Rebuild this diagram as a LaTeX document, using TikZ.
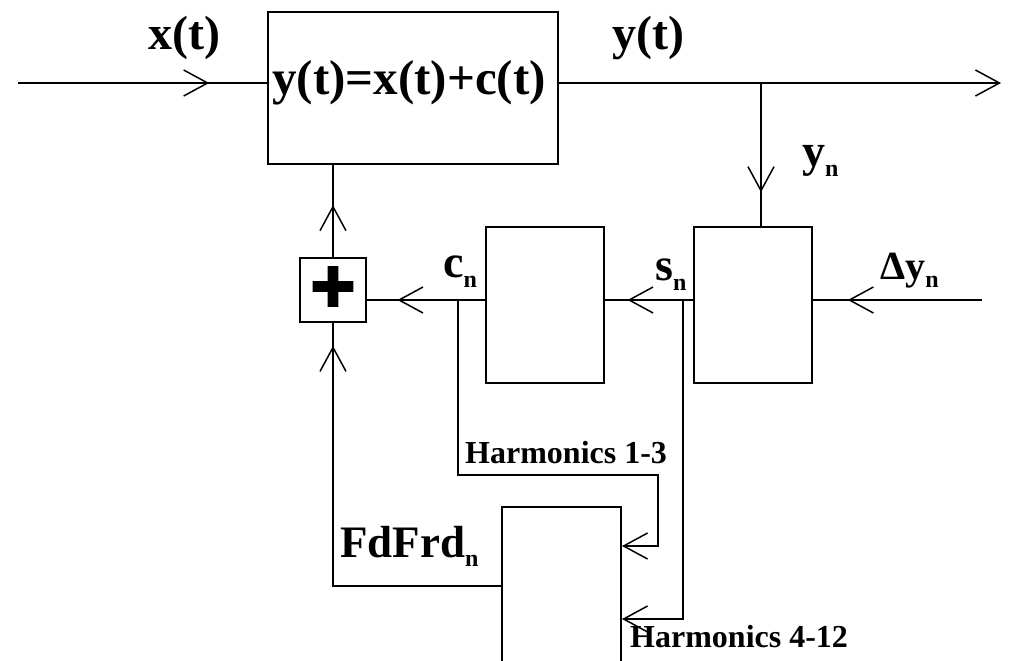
\documentclass[tikz,border=0pt]{standalone}
\usepackage{fontspec}
\setmainfont{Liberation Serif}
\newfontfamily\plusfont[FakeBold=10]{Liberation Serif}
\usetikzlibrary{arrows.meta,decorations.markings}
\newcommand{\subn}{\raisebox{-0.22em}{\fontsize{24}{24}\selectfont n}}

\begin{document}
\begin{tikzpicture}[
    x=1pt, y=-1pt,
    >={Straight Barb[length=24pt, width=26pt, line width=1.5pt]},
    blk/.style={draw, line width=2pt, inner sep=0pt},
    lab/.style={anchor=base west, inner sep=0pt, font=\fontsize{46}{46}\selectfont\bfseries},
    harmlab/.style={anchor=base west, inner sep=0pt, font=\fontsize{32}{32}\selectfont\bfseries},
    sig/.style={line width=2pt},
    mid/.style={postaction={decorate}, decoration={markings, mark=at position #1 with {\arrow{>}}}}
  ]
  \useasboundingbox (0,0) rectangle (1009,661);

  % blocks
  \node[blk, minimum width=290pt, minimum height=152pt] (sys) at (413,88) {};
  \node[blk, minimum width=66pt, minimum height=64pt, font=\plusfont\fontsize{72}{72}\selectfont] (sum) at (333,290) {+};
  \node[blk, minimum width=118pt, minimum height=156pt] (filt) at (545,305) {};
  \node[blk, minimum width=118pt, minimum height=156pt] (calc) at (753,305) {};
  \node[blk, minimum width=119pt, minimum height=226pt] (synth) at (561.5,620) {};

  % line ends and bends
  \coordinate (xin) at (18,83);
  \coordinate (yout) at (1001,83);
  \coordinate (ytap) at (761,83);
  \coordinate (dyin) at (982,300);
  \coordinate (cn) at (458,300);
  \coordinate (sn) at (683,300);
  \coordinate (h13) at (658,475);
  \coordinate (h13in) at (0,546);
  \coordinate (h412) at (0,619);
  \coordinate (fb) at (0,586);

  % signals
  \draw[sig, mid=0.768] (xin) -- (sys.west |- xin);
  \draw[sig, ->] (sys.east |- yout) -- (yout);
  \draw[sig, mid=0.764] (ytap) -- (calc.north -| ytap);
  \draw[sig, mid=0.794] (dyin) -- (calc.east |- dyin);
  \draw[sig, mid=0.744] (calc.west |- sn) -- (filt.east |- sn);
  \draw[sig, mid=0.742] (filt.west |- cn) -- (sum.east |- cn);
  \draw[sig, mid=0.564] (sum.north) -- (sys.south -| sum.north);
  \draw[sig, mid=0.947] (synth.west |- fb) -| (sum.south);
  \draw[sig, ->] (cn) |- (h13) |- (synth.east |- h13in);
  \draw[sig, ->] (sn) |- (synth.east |- h412);

  % labels
  \node[lab, anchor=base, font=\fontsize{49}{49}\selectfont\bfseries] (eq) at (409,94) {y(t)=x(t)+c(t)};
  \node[lab, font=\fontsize{48}{48}\selectfont\bfseries] (xl) at (148,49) {x(t)};
  \node[lab, font=\fontsize{48}{48}\selectfont\bfseries] (yl) at (612,49) {y(t)};
  \node[lab] (ynl) at (802,166) {y\subn};
  \node[lab] (cnl) at (443,277) {c\subn};
  \node[lab] (snl) at (655,280) {s\subn};
  \node[lab, font=\fontsize{40}{40}\selectfont\bfseries] (dyl) at (880,279) {Δy\subn};
  \node[lab, font=\fontsize{45}{45}\selectfont\bfseries] (fbl) at (340,557) {FdFrd\subn};
  \node[harmlab] (h13l) at (465,463) {Harmonics 1-3};
  \node[harmlab] (h412l) at (630,647) {Harmonics 4-12};
\end{tikzpicture}
\end{document}
